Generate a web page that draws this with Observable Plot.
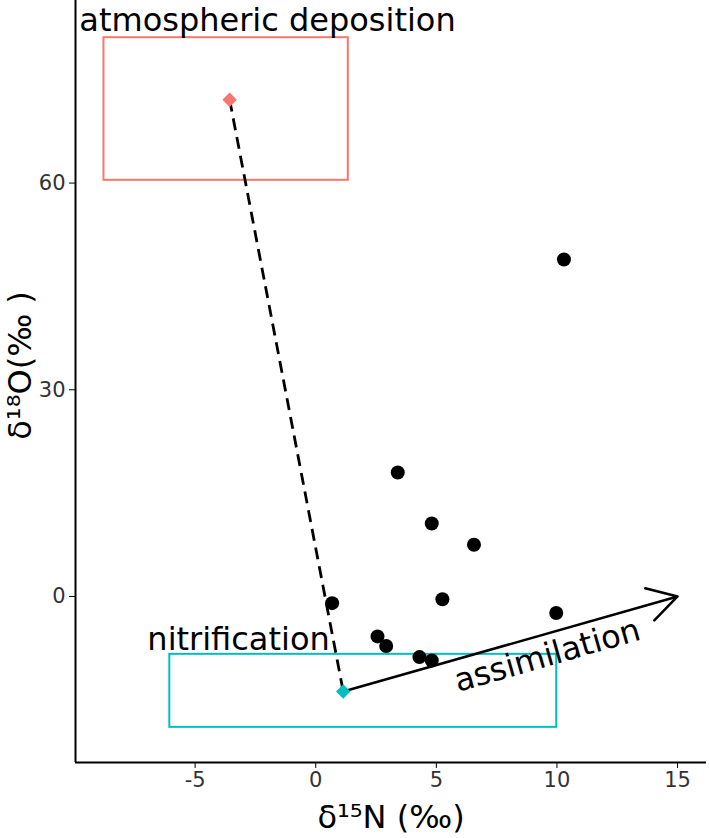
<!DOCTYPE html>
<html>
<head>
<meta charset="utf-8">
<script src="https://cdn.jsdelivr.net/npm/d3@7"></script>
<script src="https://cdn.jsdelivr.net/npm/@observablehq/plot@0.6"></script>
<style>
  html, body { margin: 0; padding: 0; background: #fff; }
</style>
</head>
<body>
<div id="chart"></div>
<script>
// Observed samples
const sampleN15 = [3.40, 4.81, 6.56, 0.68, 5.25, 10.29, 9.97, 2.56, 2.92, 4.30, 4.81];
const sampleO18 = [18.0, 10.6, 7.5, -0.97, -0.4, 48.9, -2.4, -5.8, -7.2, -8.8, -9.3];

// Sources
const sourceNames = ["atmospheric deposition", "nitrification"];
const sourceColors = ["#F8766D", "#00BFC4"];
const sourceXmin = [-8.78, -6.05];
const sourceXmax = [1.35, 9.99];
const sourceYmin = [60.4, -19.0];
const sourceYmax = [81.1, -8.4];
const sourceMeanX = [-3.57, 1.14];
const sourceMeanY = [72.1, -13.8];
const sourceLabelX = [-2.0, -3.2];
const sourceLabelY = [83.6, -6.3];

// Assimilation arrow
const arrowStart = [1.14, -13.8];
const arrowEnd = [15, 0];
const assimLabel = {text: "assimilation", x: 9.6, y: -8.6};

// Axes
const xTicks = [-5, 0, 5, 10, 15];
const xTickLabels = ["-5", "0", "5", "10", "15"];
const yTicks = [0, 30, 60];
const xDomain = [-9.96, 16.2];
const yDomain = [-24.1, 86.5];

const sources = sourceNames.map((name, i) => ({
  name, color: sourceColors[i],
  x1: sourceXmin[i], x2: sourceXmax[i], y1: sourceYmin[i], y2: sourceYmax[i],
  mx: sourceMeanX[i], my: sourceMeanY[i], lx: sourceLabelX[i], ly: sourceLabelY[i]
}));
const samples = sampleN15.map((x, i) => ({x, y: sampleO18[i]}));

const chart = Plot.plot({
  width: 709,
  height: 838,
  marginLeft: 75,
  marginRight: 3,
  marginTop: 0,
  marginBottom: 76,
  style: {fontFamily: "DejaVu Sans", background: "#fff"},
  x: {domain: xDomain},
  y: {domain: yDomain},
  marks: [
    Plot.rect(sources, {x1: "x1", x2: "x2", y1: "y1", y2: "y2", stroke: "color", strokeWidth: 2, fill: "none"}),
    Plot.link([0], {x1: () => sourceMeanX[0], y1: () => sourceMeanY[0], x2: () => sourceMeanX[1], y2: () => sourceMeanY[1],
      stroke: "black", strokeWidth: 2.8, strokeDasharray: "12,7"}),
    Plot.arrow([0], {x1: () => arrowStart[0], y1: () => arrowStart[1], x2: () => arrowEnd[0], y2: () => arrowEnd[1],
      stroke: "black", strokeWidth: 2.5, headLength: 20, headAngle: 60, bend: false}),
    Plot.dot(sources, {x: "mx", y: "my", fill: "color", symbol: "diamond2", r: 6.5, stroke: null}),
    Plot.dot(samples, {x: "x", y: "y", fill: "black", r: 7}),
    Plot.text(sources, {x: "lx", y: "ly", text: "name", fontSize: 32, fill: "black", textAnchor: "middle", lineAnchor: "middle"}),
    Plot.text([assimLabel], {x: "x", y: "y", text: "text", fontSize: 32, fill: "black", rotate: -16, textAnchor: "middle", lineAnchor: "middle"}),
    Plot.ruleX([xDomain[0]], {stroke: "black", strokeWidth: 2}),
    Plot.ruleY([yDomain[0]], {stroke: "black", strokeWidth: 2}),
    Plot.axisX({ticks: xTicks, tickSize: 6, tickPadding: 4, fontSize: 21, fill: "#333", label: null,
      tickFormat: d => xTickLabels[xTicks.indexOf(d)]}),
    Plot.axisY({ticks: yTicks, tickSize: 6, tickPadding: 4, fontSize: 21, fill: "#333", label: null}),
    Plot.text(["δ¹⁵N (‰)"], {frameAnchor: "bottom", dy: 55, fontSize: 32, fill: "black", lineAnchor: "middle"}),
    Plot.text(["δ¹⁸O(‰ )"], {frameAnchor: "left", dx: -55, dy: -16, rotate: -90, fontSize: 32, fill: "black", textAnchor: "middle", lineAnchor: "middle"})
  ]
});
document.getElementById("chart").appendChild(chart);
</script>
</body>
</html>
